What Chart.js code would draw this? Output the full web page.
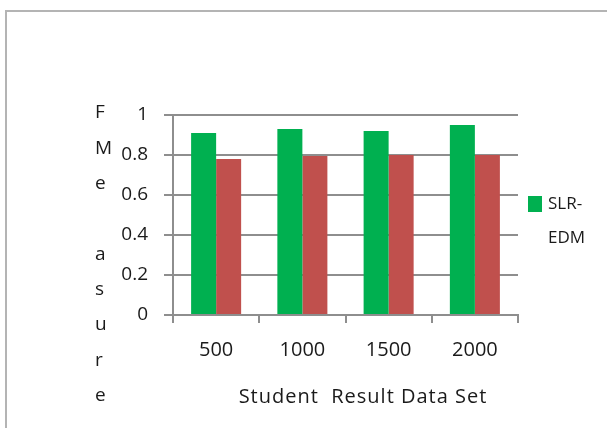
<!DOCTYPE html>
<html>
<head>
<meta charset="utf-8">
<script src="https://cdn.jsdelivr.net/npm/chart.js@4.4.1/dist/chart.umd.min.js"></script>
<style>
  html, body { margin: 0; padding: 0; background: #fff; }
  #wrap { width: 607px; height: 428px; position: relative; }
</style>
</head>
<body>
<div id="wrap"><canvas id="myChart"></canvas></div>
<script>
// data
const categories = ['500', '1000', '1500', '2000'];
const slrEdm = [0.91, 0.93, 0.92, 0.95];
const other = [0.78, 0.795, 0.80, 0.80];
const yTicks = [0, 0.2, 0.4, 0.6, 0.8, 1];

const yTitleLines = ['F', 'M', 'e', '', 'a', 's', 'u', 'r', 'e'];
const xTitle = 'Student  Result Data Set';
const legendLines = ['SLR-', 'EDM'];

const FONT = '"Open Sans", Lato, sans-serif';
const GREEN = '#00B050';
const RED = '#C0504D';
const GRID = '#8e8e8e';
const TEXT = '#1a1a1a';

// frame, y title, x title and legend drawn by hand
const extras = {
  id: 'extras',
  beforeDraw(chart) {
    const ctx = chart.ctx;
    ctx.save();
    ctx.fillStyle = '#fff';
    ctx.fillRect(0, 0, chart.width, chart.height);
    ctx.strokeStyle = '#b4b4b4';
    ctx.lineWidth = 2;
    ctx.beginPath();
    ctx.moveTo(6, chart.height);
    ctx.lineTo(6, 11);
    ctx.lineTo(chart.width, 11);
    ctx.stroke();
    ctx.restore();
  },
  afterDraw(chart) {
    const ctx = chart.ctx;
    const area = chart.chartArea;
    ctx.save();
    ctx.fillStyle = TEXT;
    ctx.textBaseline = 'middle';

    // stacked y title letters
    ctx.font = '19px ' + FONT;
    ctx.textAlign = 'left';
    yTitleLines.forEach((ch, i) => {
      ctx.fillText(ch, 95, area.top - 2 + i * 35.3);
    });

    // x title
    ctx.font = '20px ' + FONT;
    ctx.letterSpacing = '1px';
    ctx.textAlign = 'center';
    ctx.fillText(xTitle, 363, area.bottom + 82);
    ctx.letterSpacing = '0px';

    // legend (first series only)
    ctx.fillStyle = GREEN;
    ctx.fillRect(area.right + 10, 196, 14, 16);
    ctx.fillStyle = TEXT;
    ctx.font = '17px ' + FONT;
    ctx.textAlign = 'left';
    ctx.fillText(legendLines[0], area.right + 30, 204);
    ctx.fillText(legendLines[1], area.right + 30, 238);
    ctx.restore();
  }
};

const chart = new Chart(
  document.getElementById('myChart'),
  {
    type: 'bar',
    data: {
      labels: categories,
      datasets: [{
        label: 'SLR-EDM',
        data: slrEdm,
        backgroundColor: GREEN,
        borderWidth: 0
      }, {
        label: 'Existing',
        data: other,
        backgroundColor: RED,
        borderWidth: 0
      }]
    },
    options: {
      responsive: true,
      maintainAspectRatio: false,
      animation: false,
      devicePixelRatio: 1,
      layout: { padding: { left: 0, top: 115, right: 89, bottom: 0 } },
      plugins: {
        legend: { display: false },
        tooltip: { enabled: false }
      },
      datasets: {
        bar: { categoryPercentage: 0.58, barPercentage: 1 }
      },
      scales: {
        x: {
          afterFit(scale) { scale.height = 113; },
          grid: {
            offset: true,
            drawOnChartArea: false,
            drawTicks: true,
            tickLength: 8,
            color: GRID,
            lineWidth: 2
          },
          border: { color: GRID, width: 2 },
          ticks: {
            color: TEXT,
            font: { family: FONT, size: 20 },
            padding: 15
          }
        },
        y: {
          min: 0,
          max: 1,
          afterFit(scale) { scale.width = 173; },
          afterBuildTicks(scale) {
            scale.ticks = yTicks.map(v => ({ value: v }));
          },
          grid: {
            color: GRID,
            lineWidth: 2,
            tickLength: 9
          },
          border: { color: GRID, width: 2 },
          ticks: {
            color: TEXT,
            font: { family: FONT, size: 19 },
            padding: 16,
            callback: v => String(v)
          }
        }
      }
    },
    plugins: [extras]
  }
);
</script>
</body>
</html>
